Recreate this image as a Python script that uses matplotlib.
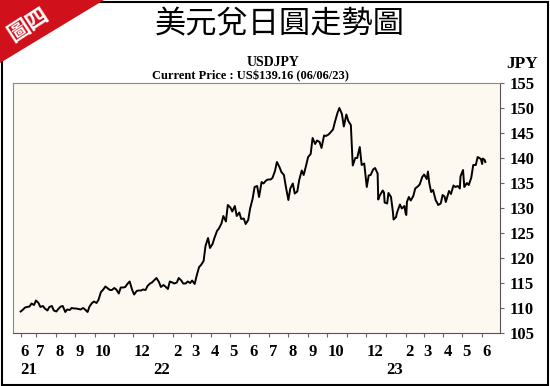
# USD/JPY chart, Jun 2021 - Jun 2023

import pandas as pd
import matplotlib
matplotlib.use('Agg')
import matplotlib.pyplot as plt
from matplotlib.patches import Polygon, Rectangle

# approx closes (about two per week)
dates_2021 = ['2021-06-07', '2021-06-10', '2021-06-14', '2021-06-17', '2021-06-21', '2021-06-24', '2021-06-28',
              '2021-07-01', '2021-07-05', '2021-07-08', '2021-07-12', '2021-07-15', '2021-07-19', '2021-07-22',
              '2021-07-26', '2021-07-29', '2021-08-02', '2021-08-05', '2021-08-09', '2021-08-12', '2021-08-16',
              '2021-08-19', '2021-08-23', '2021-08-26', '2021-08-30', '2021-09-02', '2021-09-06', '2021-09-09',
              '2021-09-13', '2021-09-16', '2021-09-20', '2021-09-23', '2021-09-27', '2021-09-30', '2021-10-04',
              '2021-10-07', '2021-10-11', '2021-10-14', '2021-10-18', '2021-10-21', '2021-10-25', '2021-10-28',
              '2021-11-01', '2021-11-04', '2021-11-08', '2021-11-11', '2021-11-15', '2021-11-18', '2021-11-22',
              '2021-11-25', '2021-11-29', '2021-12-02', '2021-12-06', '2021-12-09', '2021-12-13', '2021-12-16',
              '2021-12-20', '2021-12-23', '2021-12-27', '2021-12-30']
jpy_2021 = [109.3, 109.6, 110.1, 110.2, 110.3, 110.9, 110.6,
            111.5, 111.0, 110.2, 110.4, 109.9, 109.5, 110.2,
            110.4, 109.5, 109.3, 109.8, 110.3, 110.4, 109.2,
            109.7, 109.6, 110.0, 109.9, 109.9, 109.8, 109.7,
            110.0, 109.7, 109.2, 110.3, 111.0, 111.3, 111.0,
            111.6, 113.2, 113.6, 114.3, 114.0, 113.6, 113.6,
            114.0, 113.7, 112.9, 114.1, 114.1, 114.2, 114.9,
            115.3, 113.6, 112.7, 113.4, 113.5, 113.5, 113.7,
            113.6, 114.4, 114.9, 115.1]

dates_2022 = ['2022-01-03', '2022-01-06', '2022-01-10', '2022-01-13', '2022-01-17', '2022-01-20', '2022-01-24',
              '2022-01-27', '2022-01-31', '2022-02-03', '2022-02-07', '2022-02-10', '2022-02-14', '2022-02-17',
              '2022-02-21', '2022-02-24', '2022-02-28', '2022-03-03', '2022-03-07', '2022-03-10', '2022-03-14',
              '2022-03-17', '2022-03-21', '2022-03-24', '2022-03-28', '2022-03-31', '2022-04-04', '2022-04-07',
              '2022-04-11', '2022-04-14', '2022-04-18', '2022-04-21', '2022-04-25', '2022-04-28', '2022-05-02',
              '2022-05-05', '2022-05-09', '2022-05-12', '2022-05-16', '2022-05-19', '2022-05-23', '2022-05-26',
              '2022-05-30', '2022-06-02', '2022-06-06', '2022-06-09', '2022-06-13', '2022-06-16', '2022-06-20',
              '2022-06-23', '2022-06-27', '2022-06-30', '2022-07-04', '2022-07-07', '2022-07-11', '2022-07-14',
              '2022-07-18', '2022-07-21', '2022-07-25', '2022-07-28', '2022-08-01', '2022-08-04', '2022-08-08',
              '2022-08-11', '2022-08-15', '2022-08-18', '2022-08-22', '2022-08-25', '2022-08-29', '2022-09-01',
              '2022-09-05', '2022-09-08', '2022-09-12', '2022-09-15', '2022-09-19', '2022-09-22', '2022-09-26',
              '2022-09-29', '2022-10-03', '2022-10-06', '2022-10-10', '2022-10-13', '2022-10-17', '2022-10-20',
              '2022-10-24', '2022-10-27', '2022-10-31', '2022-11-03', '2022-11-07', '2022-11-10', '2022-11-14',
              '2022-11-17', '2022-11-21', '2022-11-24', '2022-11-28', '2022-12-01', '2022-12-02', '2022-12-05',
              '2022-12-08', '2022-12-12', '2022-12-15', '2022-12-19', '2022-12-20', '2022-12-22', '2022-12-27',
              '2022-12-29', '2022-12-30']
jpy_2022 = [115.6, 116.0, 115.2, 114.2, 114.6, 114.3, 113.8,
            115.3, 115.1, 114.9, 115.1, 116.0, 115.5, 114.9,
            114.9, 115.3, 115.0, 115.5, 114.8, 116.4, 118.2,
            118.6, 119.4, 122.4, 124.0, 122.0, 122.8, 124.0,
            125.4, 125.9, 126.9, 128.4, 127.3, 130.6, 130.1,
            129.3, 130.4, 128.4, 129.1, 127.8, 127.9, 126.8,
            127.6, 129.9, 131.9, 134.2, 134.4, 132.2, 135.2,
            134.9, 135.5, 135.7, 135.7, 136.0, 137.4, 139.2,
            138.2, 137.2, 136.6, 134.3, 131.6, 133.9, 134.9,
            132.9, 133.3, 135.6, 137.5, 136.6, 138.6, 140.2,
            140.8, 144.0, 142.8, 143.5, 143.2, 142.0, 144.5,
            144.4, 144.7, 145.1, 145.7, 147.2, 149.0, 150.0,
            148.8, 146.3, 148.7, 147.4, 146.6, 138.5, 140.0,
            140.0, 142.2, 138.6, 138.9, 135.3, 134.2, 136.5,
            136.6, 137.7, 138.0, 136.9, 131.7, 132.4, 133.5,
            133.1, 131.1]

dates_2023 = ['2023-01-03', '2023-01-05', '2023-01-09', '2023-01-12', '2023-01-13', '2023-01-17', '2023-01-18',
              '2023-01-20', '2023-01-23', '2023-01-26', '2023-01-30', '2023-02-01', '2023-02-02', '2023-02-03',
              '2023-02-06', '2023-02-09', '2023-02-13', '2023-02-16', '2023-02-20', '2023-02-23', '2023-02-27',
              '2023-03-02', '2023-03-06', '2023-03-08', '2023-03-10', '2023-03-13', '2023-03-16', '2023-03-20',
              '2023-03-23', '2023-03-24', '2023-03-28', '2023-03-31', '2023-04-03', '2023-04-05', '2023-04-10',
              '2023-04-13', '2023-04-17', '2023-04-20', '2023-04-24', '2023-04-27', '2023-04-28', '2023-05-02',
              '2023-05-04', '2023-05-08', '2023-05-11', '2023-05-15', '2023-05-18', '2023-05-22', '2023-05-25',
              '2023-05-30', '2023-06-01', '2023-06-02', '2023-06-05', '2023-06-06']
jpy_2023 = [130.9, 133.0, 132.2, 129.2, 127.7, 128.2, 128.9,
            129.6, 130.7, 129.9, 130.4, 128.9, 128.6, 131.2,
            132.2, 131.5, 132.4, 133.9, 134.3, 134.7, 136.2,
            136.7, 135.8, 137.3, 135.0, 133.2, 133.6, 131.6,
            130.9, 130.6, 130.9, 132.6, 132.3, 131.2, 133.4,
            132.8, 134.5, 134.2, 134.4, 133.9, 136.3, 137.6,
            134.2, 135.0, 134.6, 136.1, 138.6, 138.6, 140.2,
            139.8, 138.8, 139.9, 139.6, 139.2]

# x axis: first tick at start of data, then first of each month
tick_dates = ['2021-06-07'] + [str(d.date()) for d in pd.date_range('2021-07-01', '2023-06-01', freq='MS')]
tick_labels = ['6\n21', '7', '8', '9', '10', '', '12', ' \n22', '2', '3', '4', '5', '6',
               '7', '8', '9', '10', '', '12', ' \n23', '2', '3', '4', '5', '6']
y_ticks = [105, 110, 115, 120, 125, 130, 135, 140, 145, 150, 155]

df = pd.DataFrame({'date': pd.to_datetime(dates_2021 + dates_2022 + dates_2023),
                   'close': jpy_2021 + jpy_2022 + jpy_2023})

plt.rcParams['font.family'] = ['Liberation Serif', 'DejaVu Serif']

fig = plt.figure(figsize=(5.5, 3.86), dpi=100)
ax = fig.add_axes([13/550, 1 - 333/386, 487/550, 250/386])
ax.set_facecolor('#fdf9f0')

ax.plot(df['date'], df['close'], color='black', lw=1.4)

ax.set_xlim(pd.Timestamp('2021-05-26'), pd.Timestamp('2023-06-29'))
ax.set_ylim(105, 155)

# ticks / labels
ax.set_xticks(pd.to_datetime(tick_dates))
ax.set_xticklabels(tick_labels, fontsize=12, fontweight='bold', linespacing=1.15)
for t in ax.get_xticklabels():
    t.set_horizontalalignment('left')
ax.tick_params(axis='x', length=3, color='#666666', pad=5)

ax.yaxis.tick_right()
ax.set_yticks(y_ticks)
ax.set_yticklabels([str(v) for v in y_ticks], fontsize=12, fontweight='bold')
ax.tick_params(axis='y', length=3, color='#666666', pad=4)

for s in ['left', 'top']:
    ax.spines[s].set_color('#8a8a8a')
for s in ['right', 'bottom']:
    ax.spines[s].set_color('#555555')

# header texts
fig.text(280/550, 1 - 24/386, '美元兌日圓走勢圖', fontsize=22.5, ha='center', va='center',
         family=['Noto Sans CJK TC', 'DejaVu Sans'])
fig.text(273/550, 1 - 62/386, 'USDJPY', fontsize=10, fontweight='bold', ha='center', va='center')
fig.text(250/550, 1 - 76/386, 'Current Price : US$139.16 (06/06/23)', fontsize=9, fontweight='bold',
         ha='center', va='center')
fig.text(522/550, 1 - 64/386, 'JPY', fontsize=12.5, fontweight='bold', ha='center', va='center')

# outer frame + red corner tag
fig.add_artist(Rectangle((2/550, 1/386), 546/550, 383/386, transform=fig.transFigure,
                         fill=False, ec='black', lw=1.5))
fig.add_artist(Polygon([(0, 1), (104/550, 1), (0, 1 - 63/386)], closed=True,
                       transform=fig.transFigure, fc='#d0101b', ec='none', zorder=5))
fig.text(28/550, 1 - 25/386, '圖四', fontsize=16, fontweight='bold', color='white', rotation=33,
         ha='center', va='center', family=['Noto Sans CJK TC', 'DejaVu Sans'], zorder=6)

fig.savefig('out.png', dpi=100)
